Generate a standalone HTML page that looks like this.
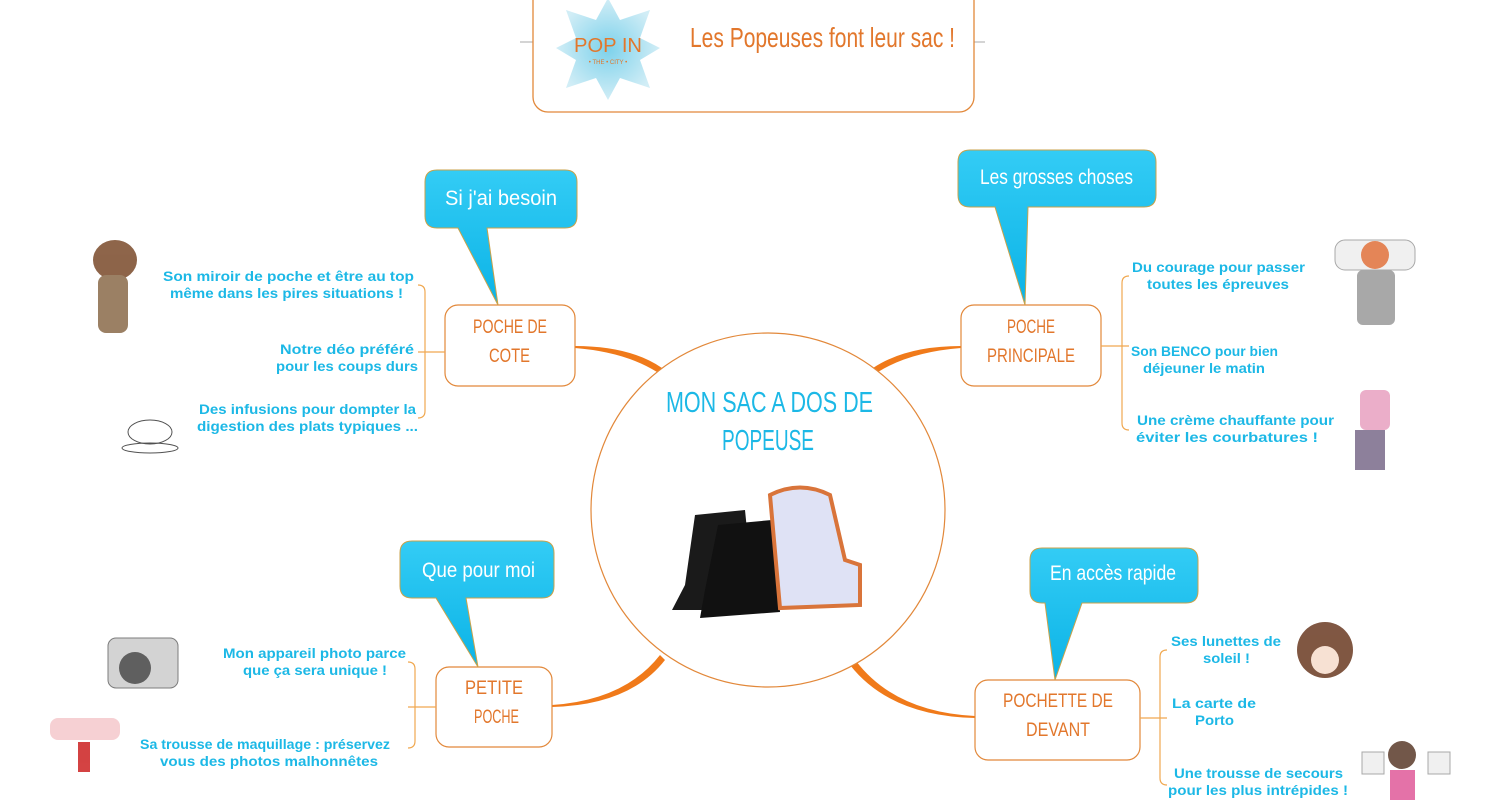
<!DOCTYPE html>
<html><head><meta charset="utf-8"><style>
html,body{margin:0;padding:0;background:#fff;}
svg{display:block;}
.it{font-family:"Liberation Sans",sans-serif;font-weight:bold;font-size:14px;fill:#1cb8e6;}
.nd{font-family:"Liberation Sans Narrow","Liberation Sans",sans-serif;font-size:19px;fill:#e2772c;}
.co{font-family:"Liberation Sans Narrow","Liberation Sans",sans-serif;font-size:21px;fill:#fff;}
</style></head><body>
<svg width="1500" height="800" viewBox="0 0 1500 800" xmlns="http://www.w3.org/2000/svg">
<defs>
<radialGradient id="lg" cx="50%" cy="50%" r="50%"><stop offset="0" stop-color="#5cc6e6"/><stop offset="1" stop-color="#c6e9f4"/></radialGradient>
<linearGradient id="cg" x1="0" y1="0" x2="0" y2="1"><stop offset="0" stop-color="#33ccf5"/><stop offset="1" stop-color="#0bb3e6"/></linearGradient>
</defs>
<line x1="520" y1="42" x2="533" y2="42" stroke="#aaa"/>
<line x1="974" y1="42" x2="985" y2="42" stroke="#aaa"/>
<rect x="533" y="-20" width="441" height="132" rx="15" fill="#fff" stroke="#e2883a" stroke-width="1.3"/>
<polygon points="608,-2 620,20 650,10 640,38 660,48 640,60 650,88 620,78 608,100 596,78 566,88 576,60 556,48 576,38 566,10 596,20" fill="url(#lg)" opacity="0.8"/>
<text x="574" y="52" font-family="Liberation Sans" font-size="20" fill="#e2772c" textLength="68" lengthAdjust="spacingAndGlyphs">POP IN</text>
<text x="608" y="64" font-family="Liberation Sans" font-size="6" fill="#e2772c" text-anchor="middle">• THE • CITY •</text>
<text x="690" y="47" class="nd" style="font-size:28px" textLength="265" lengthAdjust="spacingAndGlyphs">Les Popeuses font leur sac !</text>

<path d="M575,346 Q630,346 662,368 L657,372 Q625,352 575,348Z" fill="#f07a1a"/>
<path d="M961,346 Q906,346 873,368 L878,372 Q910,352 961,348Z" fill="#f07a1a"/>
<path d="M552,707 Q630,705 665,660 L660,655 Q625,700 552,705Z" fill="#f07a1a"/>
<path d="M975,718 Q890,716 850,665 L856,661 Q895,712 975,716Z" fill="#f07a1a"/>

<circle cx="768" cy="510" r="177" fill="#fff" stroke="#e2883a" stroke-width="1.2"/>
<text x="666" y="412" class="nd" style="fill:#1cb8e6;font-size:29px" textLength="207" lengthAdjust="spacingAndGlyphs">MON SAC A DOS DE</text>
<text x="722" y="450" class="nd" style="fill:#1cb8e6;font-size:29px" textLength="92" lengthAdjust="spacingAndGlyphs">POPEUSE</text>
<path d="M695,515 L745,510 L750,560 L776,590 L776,610 L672,610 L685,585Z" fill="#1a1a1a"/>
<path d="M718,525 L772,520 L776,570 L780,612 L700,618 L705,590Z" fill="#111"/>
<path d="M770,495 Q800,480 830,495 L845,560 L860,565 L860,605 L780,608 Z" fill="#dfe2f5" stroke="#d9743a" stroke-width="4"/>

<rect x="445" y="305" width="130" height="81" rx="13" fill="#fff" stroke="#e2883a" stroke-width="1.2"/>
<text x="473" y="333" class="nd" textLength="74" lengthAdjust="spacingAndGlyphs">POCHE DE</text><text x="489" y="362" class="nd" textLength="41" lengthAdjust="spacingAndGlyphs">COTE</text>
<rect x="961" y="305" width="140" height="81" rx="13" fill="#fff" stroke="#e2883a" stroke-width="1.2"/>
<text x="1007" y="333" class="nd" textLength="48" lengthAdjust="spacingAndGlyphs">POCHE</text><text x="987" y="362" class="nd" textLength="88" lengthAdjust="spacingAndGlyphs">PRINCIPALE</text>
<rect x="436" y="667" width="116" height="80" rx="13" fill="#fff" stroke="#e2883a" stroke-width="1.2"/>
<text x="465" y="694" class="nd" textLength="58" lengthAdjust="spacingAndGlyphs">PETITE</text><text x="474" y="723" class="nd" textLength="45" lengthAdjust="spacingAndGlyphs">POCHE</text>
<rect x="975" y="680" width="165" height="80" rx="13" fill="#fff" stroke="#e2883a" stroke-width="1.2"/>
<text x="1003" y="707" class="nd" textLength="110" lengthAdjust="spacingAndGlyphs">POCHETTE DE</text><text x="1026" y="736" class="nd" textLength="64" lengthAdjust="spacingAndGlyphs">DEVANT</text>

<g stroke="#c8a24a" stroke-width="1">
<path d="M437,170 H565 Q577,170 577,182 V216 Q577,228 565,228 H487 L498,305 L458,228 H437 Q425,228 425,216 V182 Q425,170 437,170Z" fill="url(#cg)"/>
<path d="M970,150 H1144 Q1156,150 1156,162 V195 Q1156,207 1144,207 H1028 L1025,305 L995,207 H970 Q958,207 958,195 V162 Q958,150 970,150Z" fill="url(#cg)"/>
<path d="M412,541 H542 Q554,541 554,553 V586 Q554,598 542,598 H466 L478,667 L436,598 H412 Q400,598 400,586 V553 Q400,541 412,541Z" fill="url(#cg)"/>
<path d="M1042,548 H1186 Q1198,548 1198,560 V591 Q1198,603 1186,603 H1082 L1055,680 L1045,603 H1042 Q1030,603 1030,591 V560 Q1030,548 1042,548Z" fill="url(#cg)"/>
</g>
<text x="445" y="205" class="co" textLength="112" lengthAdjust="spacingAndGlyphs">Si j'ai besoin</text>
<text x="980" y="184" class="co" textLength="153" lengthAdjust="spacingAndGlyphs">Les grosses choses</text>
<text x="422" y="577" class="co" textLength="113" lengthAdjust="spacingAndGlyphs">Que pour moi</text>
<text x="1050" y="580" class="co" textLength="126" lengthAdjust="spacingAndGlyphs">En accès rapide</text>

<g fill="none" stroke="#f0a850" stroke-width="1.2">
<path d="M418,285 Q425,285 425,292 V411 Q425,418 418,418 M425,352 H445 M418,352 H425"/>
<path d="M1129,276 Q1122,276 1122,283 V423 Q1122,430 1129,430 M1101,346 H1122 M1122,346 H1129"/>
<path d="M408,662 Q415,662 415,669 V741 Q415,748 408,748 M415,707 H436 M408,707 H415"/>
<path d="M1167,650 Q1160,650 1160,657 V778 Q1160,785 1167,785 M1140,718 H1160 M1160,718 H1167"/>
</g>

<g lengthAdjust="spacingAndGlyphs">
<text x="163" y="281" class="it" textLength="251" lengthAdjust="spacingAndGlyphs">Son miroir de poche et être au top</text>
<text x="170" y="298" class="it" textLength="233" lengthAdjust="spacingAndGlyphs">même dans les pires situations !</text>
<text x="280" y="354" class="it" textLength="134" lengthAdjust="spacingAndGlyphs">Notre déo préféré</text>
<text x="276" y="371" class="it" textLength="142" lengthAdjust="spacingAndGlyphs">pour les coups durs</text>
<text x="199" y="414" class="it" textLength="217" lengthAdjust="spacingAndGlyphs">Des infusions pour dompter la</text>
<text x="197" y="431" class="it" textLength="221" lengthAdjust="spacingAndGlyphs">digestion des plats typiques ...</text>
<text x="1132" y="272" class="it" textLength="173" lengthAdjust="spacingAndGlyphs">Du courage pour passer</text>
<text x="1147" y="289" class="it" textLength="142" lengthAdjust="spacingAndGlyphs">toutes les épreuves</text>
<text x="1131" y="356" class="it" textLength="147" lengthAdjust="spacingAndGlyphs">Son BENCO pour bien</text>
<text x="1143" y="373" class="it" textLength="122" lengthAdjust="spacingAndGlyphs">déjeuner le matin</text>
<text x="1137" y="425" class="it" textLength="197" lengthAdjust="spacingAndGlyphs">Une crème chauffante pour</text>
<text x="1136" y="442" class="it" textLength="182" lengthAdjust="spacingAndGlyphs">éviter les courbatures !</text>
<text x="223" y="658" class="it" textLength="183" lengthAdjust="spacingAndGlyphs">Mon appareil photo parce</text>
<text x="243" y="675" class="it" textLength="144" lengthAdjust="spacingAndGlyphs">que ça sera unique !</text>
<text x="140" y="749" class="it" textLength="250" lengthAdjust="spacingAndGlyphs">Sa trousse de maquillage : préservez</text>
<text x="160" y="766" class="it" textLength="218" lengthAdjust="spacingAndGlyphs">vous des photos malhonnêtes</text>
<text x="1171" y="646" class="it" textLength="110" lengthAdjust="spacingAndGlyphs">Ses lunettes de</text>
<text x="1203" y="663" class="it" textLength="47" lengthAdjust="spacingAndGlyphs">soleil !</text>
<text x="1172" y="708" class="it" textLength="84" lengthAdjust="spacingAndGlyphs">La carte de</text>
<text x="1195" y="725" class="it" textLength="39" lengthAdjust="spacingAndGlyphs">Porto</text>
<text x="1174" y="778" class="it" textLength="169" lengthAdjust="spacingAndGlyphs">Une trousse de secours</text>
<text x="1168" y="795" class="it" textLength="180" lengthAdjust="spacingAndGlyphs">pour les plus intrépides !</text>
</g>

<g opacity="0.85">
<ellipse cx="115" cy="260" rx="22" ry="20" fill="#7a4a2a"/><rect x="98" y="275" width="30" height="58" rx="8" fill="#8a6a4a"/>
<ellipse cx="150" cy="432" rx="22" ry="12" fill="none" stroke="#333"/><ellipse cx="150" cy="448" rx="28" ry="5" fill="none" stroke="#333"/>
<rect x="1335" y="240" width="80" height="30" rx="10" fill="#eee" stroke="#999"/><circle cx="1375" cy="255" r="14" fill="#e0703a"/><rect x="1357" y="270" width="38" height="55" rx="6" fill="#999"/>
<rect x="1360" y="390" width="30" height="40" rx="6" fill="#e8a0c0"/><rect x="1355" y="430" width="30" height="40" fill="#7a6a8a"/>
<rect x="108" y="638" width="70" height="50" rx="8" fill="#ccc" stroke="#666"/><circle cx="135" cy="668" r="16" fill="#444"/>
<rect x="50" y="718" width="70" height="22" rx="8" fill="#f5c8cc"/><rect x="78" y="742" width="12" height="30" fill="#c22"/>
<ellipse cx="1325" cy="650" rx="28" ry="28" fill="#6a3a22"/><circle cx="1325" cy="660" r="14" fill="#f6dccc"/>
<circle cx="1402" cy="755" r="14" fill="#5a3a2a"/><rect x="1390" y="770" width="25" height="30" fill="#e05a9a"/>
<rect x="1362" y="752" width="22" height="22" fill="#eee" stroke="#999"/><rect x="1428" y="752" width="22" height="22" fill="#eee" stroke="#999"/>
</g>
</svg>
</body></html>
